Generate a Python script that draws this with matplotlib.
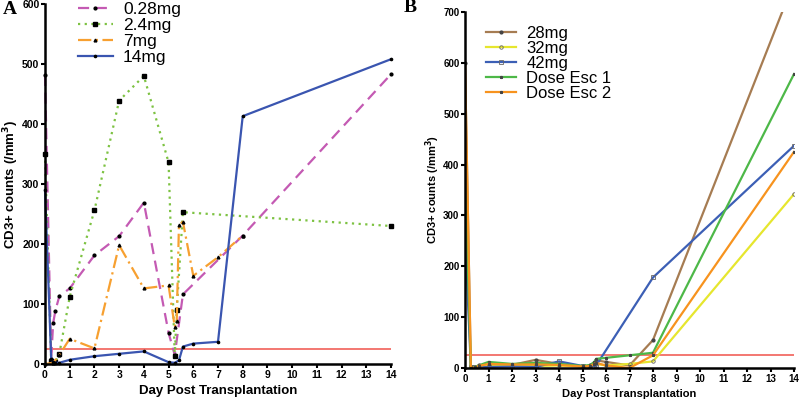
import numpy as np
import matplotlib.pyplot as plt

plt.rcParams['font.family'] = ['Liberation Sans', 'DejaVu Sans']

# ---- Panel A data ----
a_names = ["0.28mg", "2.4mg", "7mg", "14mg"]
a_x028 = [0, 0.25, 0.33, 0.42, 0.58, 1, 2, 3, 4, 5, 5.25, 5.58, 8, 14]
a_y028 = [482, 9, 68, 89, 113, 126, 181, 213, 269, 52, 15, 116, 214, 483]
a_x24 = [0, 0.25, 0.42, 0.58, 1, 2, 3, 4, 5, 5.25, 5.33, 5.58, 14]
a_y24 = [350, 5, 3, 17, 112, 256, 439, 480, 336, 13, 90, 253, 230]
a_x7 = [0, 0.33, 0.58, 1, 2, 3, 4, 5, 5.25, 5.33, 5.42, 5.58, 6, 7, 8]
a_y7 = [0, 2, 15, 42, 26, 198, 126, 131, 62, 72, 232, 237, 147, 178, 214]
a_x14 = [0, 0.25, 0.33, 0.42, 0.58, 1, 2, 3, 4, 5, 5.25, 5.42, 5.58, 6, 7, 8, 14]
a_y14 = [290, 9, 3, 2, 2, 7, 13, 17, 21, 3, 2, 6, 29, 34, 37, 413, 508]

# ---- Panel B data ----
b_names = ["28mg", "32mg", "42mg", "Dose Esc 1", "Dose Esc 2"]
b_x = [0, 0.25, 0.42, 0.58, 1, 2, 3, 4, 5, 5.33, 5.5, 5.58, 6, 7, 8, 14]
b_y28 = [600, 2, 0, 5, 5, 6, 16, 8, 3, 5, 10, 15, 12, 5, 55, 759]
b_y32 = [340, 1, 1, 2, 5, 6, 4, 5, 3, 3, 5, 8, 5, 8, 13, 342]
b_x42 = [0, 0.25, 0.42, 0.58, 1, 2, 3, 4, 5, 5.33, 5.5, 5.58, 8, 14]
b_y42 = [263, 2, 1, 1, 2, 3, 2, 13, 4, 3, 4, 5, 178, 437]
b_yde1 = [390, 1, 2, 5, 12, 8, 10, 8, 4, 6, 12, 18, 20, 25, 30, 578]
b_yde2 = [600, 0, 1, 4, 8, 7, 7, 6, 3, 4, 8, 10, 5, 0, 25, 425]

threshold = 25

fig = plt.figure(figsize=(8, 4), dpi=100)
axA = fig.add_axes([0.05625, 0.09, 0.4325, 0.90])
axB = fig.add_axes([0.58125, 0.08, 0.41125, 0.89])

def style(ax, ymax, ystep, tsize, lsize):
    ax.set_xlim(0, 14)
    ax.set_ylim(0, ymax)
    ax.set_xticks(np.arange(0, 15, 1))
    ax.set_yticks(np.arange(0, ymax + 1, ystep))
    for s in ['top', 'right']:
        ax.spines[s].set_visible(False)
    for s in ['left', 'bottom']:
        ax.spines[s].set_linewidth(1.8)
    ax.tick_params(direction='out', length=3, width=1.5, labelsize=tsize, pad=1)
    for lab in ax.get_xticklabels() + ax.get_yticklabels():
        lab.set_fontweight('bold')
    ax.set_xlabel("Day Post Transplantation", fontsize=lsize, fontweight='bold', labelpad=4)
    ax.set_ylabel("CD3+ counts (/mm$^\\mathbf{3}$)", fontsize=lsize, fontweight='bold', labelpad=1)

# Panel A
axA.plot(a_x028, a_y028, color='#C45AB3', ls=(0, (5, 3)), lw=1.6, marker='o', ms=2,
         mfc='k', mec='k', label=a_names[0], clip_on=False)
axA.plot(a_x24, a_y24, color='#7DC242', ls=(0, (1, 2)), lw=1.6, marker='s', ms=2.5,
         mfc='k', mec='k', label=a_names[1], clip_on=False)
axA.plot(a_x7, a_y7, color='#F7A030', ls=(0, (6, 2, 1, 2)), lw=1.6, marker='^', ms=2,
         mfc='k', mec='k', label=a_names[2], clip_on=False)
axA.plot(a_x14, a_y14, color='#3A55B0', ls='-', lw=1.6, marker='o', ms=1.6,
         mfc='k', mec='k', label=a_names[3], clip_on=False)
axA.axhline(threshold, color='#F0524A', lw=1.1, zorder=1)
style(axA, 600, 100, 7.5, 9.5)
axA.legend(loc='upper left', bbox_to_anchor=(0.07, 1.03), frameon=False, fontsize=12.5,
           handlelength=2, handletextpad=0.6, labelspacing=0.05, borderpad=0)

# Panel B
b_cols = ['#A67C52', '#E6E62E', '#3C5FB5', '#4DB848', '#F7931E']
b_mark = ['o', 'o', 's', '*', '*']
b_xs = [b_x, b_x, b_x42, b_x, b_x]
b_series = [b_y28, b_y32, b_y42, b_yde1, b_yde2]
for name, xs, ys, c, m in zip(b_names, b_xs, b_series, b_cols, b_mark):
    if name in ("32mg", "42mg"):
        axB.plot(xs, ys, color=c, lw=1.6, marker=m, ms=2.5, mfc='none', mec='#666666', mew=0.6,
                 label=name)
    else:
        axB.plot(xs, ys, color=c, lw=1.6, marker=m, ms=2, mfc='#444444', mec='#444444',
                 label=name)
axB.axhline(threshold, color='#F0524A', lw=1.1, zorder=1)
style(axB, 700, 100, 7, 8)
axB.legend(loc='upper left', bbox_to_anchor=(0.04, 0.985), frameon=False, fontsize=12,
           handlelength=1.8, handletextpad=0.6, labelspacing=0.0, borderpad=0)

fig.text(0.004, 0.975, "A", fontsize=14, fontweight='bold', family='Liberation Serif', va='center')
fig.text(0.504, 0.98, "B", fontsize=14, fontweight='bold', family='Liberation Serif', va='center')

fig.savefig("out.png", dpi=100)
